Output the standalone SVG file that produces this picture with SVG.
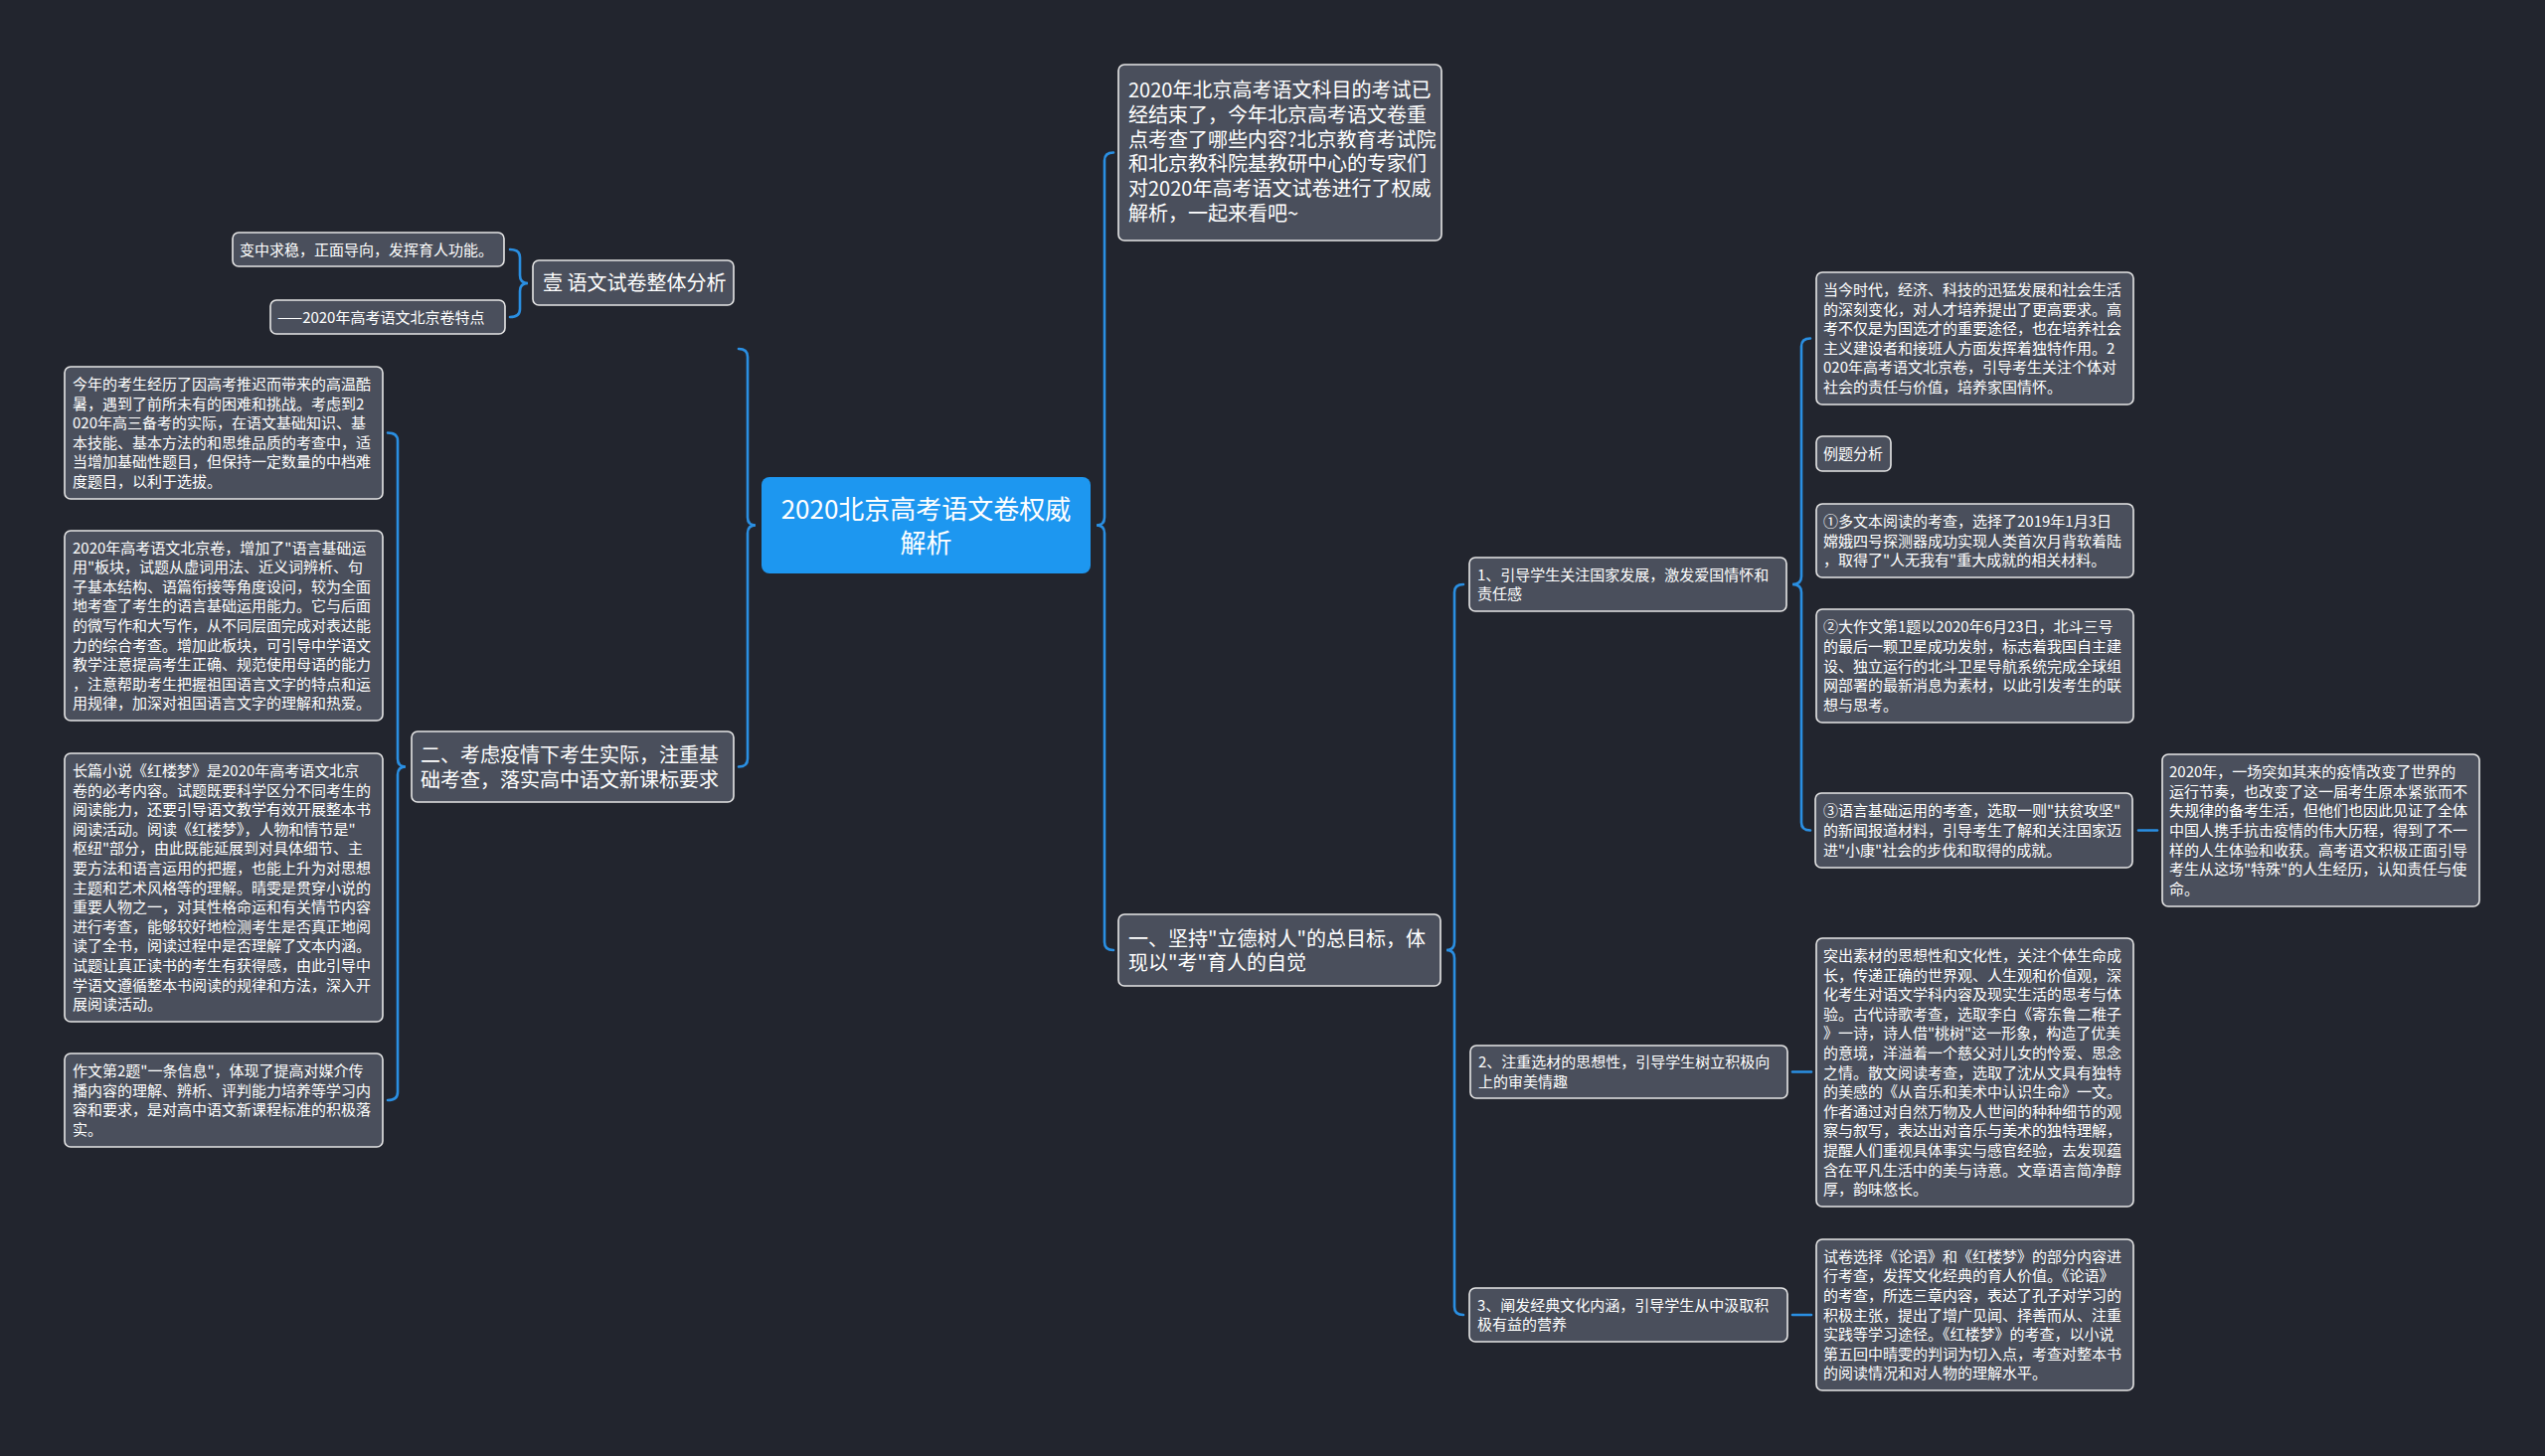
<svg xmlns="http://www.w3.org/2000/svg" width="2560" height="1465" viewBox="0 0 2560 1465">
<style>
.bg{fill:#22252e}
.n rect{fill:#4a4f5c;stroke:#e6e6e6;stroke-width:1.6}
.root rect{fill:#1d97f0}
text{font-family:"Noto Sans CJK SC","Noto Sans",sans-serif;fill:#ffffff}
.s15{font-size:15px}
.s20{font-size:20px}
.s26{font-size:26px}
.c path,.c line{fill:none;stroke:#2a8fe2;stroke-width:2.6;stroke-linecap:round}
</style>
<rect class="bg" x="0" y="0" width="2560" height="1465"/>
<g class="c" id="connectors">
<path d="M513,251 Q523,251 523,259 L523,277 Q523,285 531,285 Q523,285 523,293 L523,311 Q523,319 513,319"/>
<path d="M390,435.5 Q400,435.5 400,443.5 L400,763.5 Q400,771.5 408,771.5 Q400,771.5 400,779.5 L400,1099 Q400,1107 390,1107"/>
<path d="M743,351 Q752,351 752,359 L752,520.5 Q752,528.5 760,528.5 Q752,528.5 752,536.5 L752,763.5 Q752,771.5 743,771.5"/>
<path d="M1120,153.5 Q1111,153.5 1111,161.5 L1111,520.5 Q1111,528.5 1103,528.5 Q1111,528.5 1111,536.5 L1111,948 Q1111,956 1120,956"/>
<path d="M1472,588 Q1463,588 1463,596 L1463,948 Q1463,956 1455,956 Q1463,956 1463,964 L1463,1315 Q1463,1323 1472,1323"/>
<path d="M1821,340.5 Q1812,340.5 1812,348.5 L1812,580 Q1812,588 1803,588 Q1812,588 1812,596 L1812,827.5 Q1812,835.5 1821,835.5"/>
<line x1="2151" y1="835.5" x2="2170" y2="835.5"/>
<line x1="1803" y1="1078.5" x2="1822" y2="1078.5"/>
<line x1="1803" y1="1323" x2="1822" y2="1323"/>
</g>
<g id="root" class="root">
<rect x="766" y="480" width="331" height="97" rx="8"/>
<text class="s26" text-anchor="middle"><tspan x="931.5" y="521.5">2020北京高考语文卷权威</tspan><tspan x="931.5" y="555.5">解析</tspan></text>
</g>
<g id="intro" class="n">
<rect x="1125" y="65" width="325" height="177" rx="6"/>
<text class="s20"><tspan x="1135" y="98">2020年北京高考语文科目的考试已</tspan><tspan x="1135" dy="24.8">经结束了，今年北京高考语文卷重</tspan><tspan x="1135" dy="24.8">点考查了哪些内容?北京教育考试院</tspan><tspan x="1135" dy="24.8">和北京教科院基教研中心的专家们</tspan><tspan x="1135" dy="24.8">对2020年高考语文试卷进行了权威</tspan><tspan x="1135" dy="24.8">解析，一起来看吧~</tspan></text>
</g>
<g id="yi-a" class="n">
<rect x="536" y="262" width="202" height="45" rx="6"/>
<text class="s20" x="546" y="292">壹 语文试卷整体分析</text>
</g>
<g id="yi-a-1" class="n">
<rect x="234" y="234" width="273" height="34" rx="6"/>
<text class="s15" x="241" y="256.5">变中求稳，正面导向，发挥育人功能。</text>
</g>
<g id="yi-a-2" class="n">
<rect x="272" y="302" width="236" height="34" rx="6"/>
<text class="s15" x="279" y="324.5">——2020年高考语文北京卷特点</text>
</g>
<g id="er" class="n">
<rect x="414" y="736" width="324" height="71" rx="6"/>
<text class="s20"><tspan x="423" y="766.5">二、考虑疫情下考生实际，注重基</tspan><tspan x="423" dy="25">础考查，落实高中语文新课标要求</tspan></text>
</g>
<g id="er-1" class="n">
<rect x="65" y="369" width="320" height="133" rx="6"/>
<text class="s15"><tspan x="73" y="392">今年的考生经历了因高考推迟而带来的高温酷</tspan><tspan x="73" dy="19.6">暑，遇到了前所未有的困难和挑战。考虑到2</tspan><tspan x="73" dy="19.6">020年高三备考的实际，在语文基础知识、基</tspan><tspan x="73" dy="19.6">本技能、基本方法的和思维品质的考查中，适</tspan><tspan x="73" dy="19.6">当增加基础性题目，但保持一定数量的中档难</tspan><tspan x="73" dy="19.6">度题目，以利于选拔。</tspan></text>
</g>
<g id="er-2" class="n">
<rect x="65" y="534" width="320" height="191" rx="6"/>
<text class="s15"><tspan x="73" y="556.6">2020年高考语文北京卷，增加了"语言基础运</tspan><tspan x="73" dy="19.6">用"板块，试题从虚词用法、近义词辨析、句</tspan><tspan x="73" dy="19.6">子基本结构、语篇衔接等角度设问，较为全面</tspan><tspan x="73" dy="19.6">地考查了考生的语言基础运用能力。它与后面</tspan><tspan x="73" dy="19.6">的微写作和大写作，从不同层面完成对表达能</tspan><tspan x="73" dy="19.6">力的综合考查。增加此板块，可引导中学语文</tspan><tspan x="73" dy="19.6">教学注意提高考生正确、规范使用母语的能力</tspan><tspan x="73" dy="19.6">，注意帮助考生把握祖国语言文字的特点和运</tspan><tspan x="73" dy="19.6">用规律，加深对祖国语言文字的理解和热爱。</tspan></text>
</g>
<g id="er-3" class="n">
<rect x="65" y="758" width="320" height="270" rx="6"/>
<text class="s15"><tspan x="73" y="780.9">长篇小说《红楼梦》是2020年高考语文北京</tspan><tspan x="73" dy="19.6">卷的必考内容。试题既要科学区分不同考生的</tspan><tspan x="73" dy="19.6">阅读能力，还要引导语文教学有效开展整本书</tspan><tspan x="73" dy="19.6">阅读活动。阅读《红楼梦》，人物和情节是"</tspan><tspan x="73" dy="19.6">枢纽"部分，由此既能延展到对具体细节、主</tspan><tspan x="73" dy="19.6">要方法和语言运用的把握，也能上升为对思想</tspan><tspan x="73" dy="19.6">主题和艺术风格等的理解。晴雯是贯穿小说的</tspan><tspan x="73" dy="19.6">重要人物之一，对其性格命运和有关情节内容</tspan><tspan x="73" dy="19.6">进行考查，能够较好地检测考生是否真正地阅</tspan><tspan x="73" dy="19.6">读了全书，阅读过程中是否理解了文本内涵。</tspan><tspan x="73" dy="19.6">试题让真正读书的考生有获得感，由此引导中</tspan><tspan x="73" dy="19.6">学语文遵循整本书阅读的规律和方法，深入开</tspan><tspan x="73" dy="19.6">展阅读活动。</tspan></text>
</g>
<g id="er-4" class="n">
<rect x="65" y="1060" width="320" height="94" rx="6"/>
<text class="s15"><tspan x="73" y="1083.1">作文第2题"一条信息"，体现了提高对媒介传</tspan><tspan x="73" dy="19.6">播内容的理解、辨析、评判能力培养等学习内</tspan><tspan x="73" dy="19.6">容和要求，是对高中语文新课程标准的积极落</tspan><tspan x="73" dy="19.6">实。</tspan></text>
</g>
<g id="yi" class="n">
<rect x="1125" y="920" width="324" height="72" rx="6"/>
<text class="s20"><tspan x="1135" y="951.5">一、坚持"立德树人"的总目标，体</tspan><tspan x="1135" dy="24.8">现以"考"育人的自觉</tspan></text>
</g>
<g id="yi-1" class="n">
<rect x="1478" y="561" width="319" height="54" rx="6"/>
<text class="s15"><tspan x="1486" y="583.7">1、引导学生关注国家发展，激发爱国情怀和</tspan><tspan x="1486" dy="19.6">责任感</tspan></text>
</g>
<g id="yi-1-a" class="n">
<rect x="1827" y="274" width="319" height="133" rx="6"/>
<text class="s15"><tspan x="1834" y="297">当今时代，经济、科技的迅猛发展和社会生活</tspan><tspan x="1834" dy="19.6">的深刻变化，对人才培养提出了更高要求。高</tspan><tspan x="1834" dy="19.6">考不仅是为国选才的重要途径，也在培养社会</tspan><tspan x="1834" dy="19.6">主义建设者和接班人方面发挥着独特作用。2</tspan><tspan x="1834" dy="19.6">020年高考语文北京卷，引导考生关注个体对</tspan><tspan x="1834" dy="19.6">社会的责任与价值，培养家国情怀。</tspan></text>
</g>
<g id="yi-1-b" class="n">
<rect x="1827" y="439" width="75" height="35" rx="6"/>
<text class="s15" x="1834" y="462">例题分析</text>
</g>
<g id="yi-1-c" class="n">
<rect x="1827" y="507" width="319" height="74" rx="6"/>
<text class="s15"><tspan x="1834" y="529.9">①多文本阅读的考查，选择了2019年1月3日</tspan><tspan x="1834" dy="19.6">嫦娥四号探测器成功实现人类首次月背软着陆</tspan><tspan x="1834" dy="19.6">，取得了"人无我有"重大成就的相关材料。</tspan></text>
</g>
<g id="yi-1-d" class="n">
<rect x="1827" y="613" width="319" height="114" rx="6"/>
<text class="s15"><tspan x="1834" y="636.3">②大作文第1题以2020年6月23日，北斗三号</tspan><tspan x="1834" dy="19.6">的最后一颗卫星成功发射，标志着我国自主建</tspan><tspan x="1834" dy="19.6">设、独立运行的北斗卫星导航系统完成全球组</tspan><tspan x="1834" dy="19.6">网部署的最新消息为素材，以此引发考生的联</tspan><tspan x="1834" dy="19.6">想与思考。</tspan></text>
</g>
<g id="yi-1-e" class="n">
<rect x="1826" y="798" width="319" height="75" rx="6"/>
<text class="s15"><tspan x="1834" y="821.4">③语言基础运用的考查，选取一则"扶贫攻坚"</tspan><tspan x="1834" dy="19.6">的新闻报道材料，引导考生了解和关注国家迈</tspan><tspan x="1834" dy="19.6">进"小康"社会的步伐和取得的成就。</tspan></text>
</g>
<g id="yi-1-e-1" class="n">
<rect x="2175" y="759" width="319" height="153" rx="6"/>
<text class="s15"><tspan x="2182" y="782.2">2020年，一场突如其来的疫情改变了世界的</tspan><tspan x="2182" dy="19.6">运行节奏，也改变了这一届考生原本紧张而不</tspan><tspan x="2182" dy="19.6">失规律的备考生活，但他们也因此见证了全体</tspan><tspan x="2182" dy="19.6">中国人携手抗击疫情的伟大历程，得到了不一</tspan><tspan x="2182" dy="19.6">样的人生体验和收获。高考语文积极正面引导</tspan><tspan x="2182" dy="19.6">考生从这场"特殊"的人生经历，认知责任与使</tspan><tspan x="2182" dy="19.6">命。</tspan></text>
</g>
<g id="yi-2" class="n">
<rect x="1479" y="1052" width="319" height="53" rx="6"/>
<text class="s15"><tspan x="1487" y="1074.2">2、注重选材的思想性，引导学生树立积极向</tspan><tspan x="1487" dy="19.6">上的审美情趣</tspan></text>
</g>
<g id="yi-2-a" class="n">
<rect x="1827" y="944" width="319" height="270" rx="6"/>
<text class="s15"><tspan x="1834" y="966.9">突出素材的思想性和文化性，关注个体生命成</tspan><tspan x="1834" dy="19.6">长，传递正确的世界观、人生观和价值观，深</tspan><tspan x="1834" dy="19.6">化考生对语文学科内容及现实生活的思考与体</tspan><tspan x="1834" dy="19.6">验。古代诗歌考查，选取李白《寄东鲁二稚子</tspan><tspan x="1834" dy="19.6">》一诗，诗人借"桃树"这一形象，构造了优美</tspan><tspan x="1834" dy="19.6">的意境，洋溢着一个慈父对儿女的怜爱、思念</tspan><tspan x="1834" dy="19.6">之情。散文阅读考查，选取了沈从文具有独特</tspan><tspan x="1834" dy="19.6">的美感的《从音乐和美术中认识生命》一文。</tspan><tspan x="1834" dy="19.6">作者通过对自然万物及人世间的种种细节的观</tspan><tspan x="1834" dy="19.6">察与叙写，表达出对音乐与美术的独特理解，</tspan><tspan x="1834" dy="19.6">提醒人们重视具体事实与感官经验，去发现蕴</tspan><tspan x="1834" dy="19.6">含在平凡生活中的美与诗意。文章语言简净醇</tspan><tspan x="1834" dy="19.6">厚，韵味悠长。</tspan></text>
</g>
<g id="yi-3" class="n">
<rect x="1478" y="1296" width="320" height="54" rx="6"/>
<text class="s15"><tspan x="1486" y="1318.7">3、阐发经典文化内涵，引导学生从中汲取积</tspan><tspan x="1486" dy="19.6">极有益的营养</tspan></text>
</g>
<g id="yi-3-a" class="n">
<rect x="1827" y="1247" width="319" height="152" rx="6"/>
<text class="s15"><tspan x="1834" y="1269.7">试卷选择《论语》和《红楼梦》的部分内容进</tspan><tspan x="1834" dy="19.6">行考查，发挥文化经典的育人价值。《论语》</tspan><tspan x="1834" dy="19.6">的考查，所选三章内容，表达了孔子对学习的</tspan><tspan x="1834" dy="19.6">积极主张，提出了增广见闻、择善而从、注重</tspan><tspan x="1834" dy="19.6">实践等学习途径。《红楼梦》的考查，以小说</tspan><tspan x="1834" dy="19.6">第五回中晴雯的判词为切入点，考查对整本书</tspan><tspan x="1834" dy="19.6">的阅读情况和对人物的理解水平。</tspan></text>
</g>
</svg>
